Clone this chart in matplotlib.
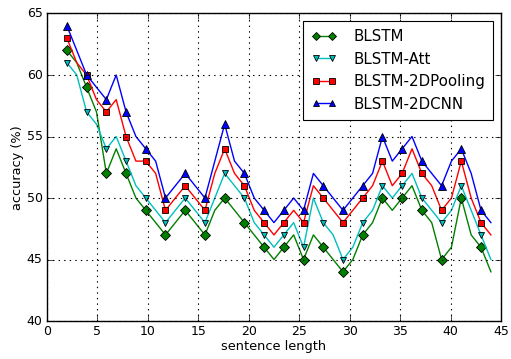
import numpy as np
import matplotlib
matplotlib.use("Agg")
import matplotlib.pyplot as plt

plt.style.use("classic")
plt.rcParams["font.family"] = ["DejaVu Sans"]

# sentence-length positions (44 samples between 2 and 44)
x = np.linspace(2, 44, 44)

blstm = [62, 61, 59, 57, 52, 54, 52, 50, 49, 48, 47, 48, 49, 48, 47, 49, 50, 49, 48, 47, 46, 45,
         46, 47, 45, 47, 46, 45, 44, 45, 47, 48, 50, 49, 50, 51, 49, 48, 45, 46, 50, 47, 46, 44]
blstm_att = [61, 60, 57, 56, 54, 55, 53, 51, 50, 49, 48, 49, 50, 49, 48, 50, 52, 51, 50, 48, 47, 46,
             47, 48, 46, 50, 48, 47, 45, 46, 48, 49, 51, 50, 51, 52, 50, 49, 48, 49, 51, 49, 47, 45]
blstm_2dpool = [63, 61, 60, 58, 57, 58, 55, 53, 53, 52, 49, 50, 51, 50, 49, 52, 54, 52, 51, 49, 48, 47,
                48, 49, 48, 51, 50, 49, 48, 49, 50, 51, 53, 51, 52, 54, 52, 51, 49, 50, 53, 50, 48, 47]
blstm_2dcnn = [64, 62, 60, 59, 58, 60, 57, 55, 54, 53, 50, 51, 52, 51, 50, 53, 56, 53, 52, 50, 49, 48,
               49, 50, 49, 52, 51, 50, 49, 50, 51, 52, 55, 53, 54, 55, 53, 52, 51, 53, 54, 52, 49, 48]

labels = ["BLSTM", "BLSTM-Att", "BLSTM-2DPooling", "BLSTM-2DCNN"]
series = [blstm, blstm_att, blstm_2dpool, blstm_2dcnn]
colors = ["g", "c", "r", "b"]
markers = ["D", "v", "s", "^"]
msizes = [5, 5, 5, 5.5]

fig = plt.figure(figsize=(5.11, 3.59), dpi=100)
fig.patch.set_facecolor("white")
ax = fig.add_axes([0.0914, 0.1058, 0.889, 0.8566])

for y, lab, c, m, ms in zip(series, labels, colors, markers, msizes):
    ax.plot(x, y, color=c, marker=m, markersize=ms, markevery=2, linewidth=1,
            markeredgecolor="k", markeredgewidth=0.6, label=lab)

ax.set_xlim(0, 45)
ax.set_ylim(40, 65)
ax.set_xticks(np.arange(0, 46, 5))
ax.set_yticks(np.arange(40, 66, 5))
ax.grid(True, color="k", linestyle=":", linewidth=0.8)
ax.tick_params(labelsize=9, direction="in", length=4, pad=3)
ax.set_xlabel("sentence length", fontsize=9.3, labelpad=1)
ax.set_ylabel("accuracy (%)", fontsize=9.3, labelpad=2)

leg = ax.legend(loc="upper right", fontsize=10.8, numpoints=2, fancybox=False,
                borderaxespad=0.5, handlelength=1.7, handletextpad=1.1,
                borderpad=0.55, labelspacing=0.5, markerscale=0.75)
leg.get_frame().set_linewidth(0.8)

fig.savefig("out.png", dpi=100, facecolor="white")
